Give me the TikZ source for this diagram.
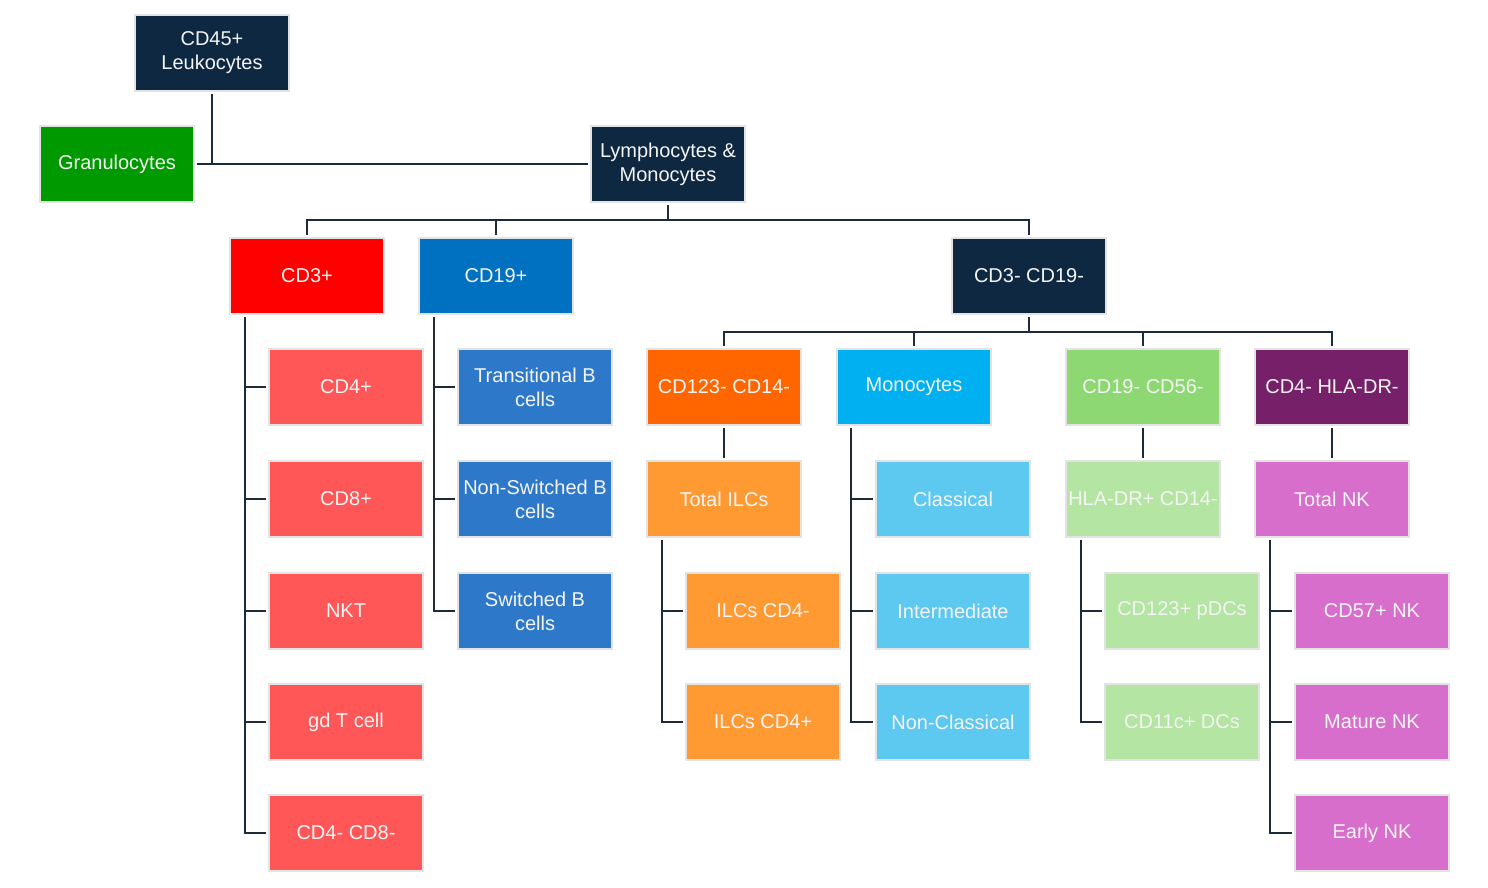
\documentclass[tikz,border=0pt]{standalone}
\usepackage{fontspec}
\setmainfont{Liberation Sans}
\definecolor{navy}{HTML}{0E2841}
\definecolor{linec}{HTML}{1C2B3C}
\definecolor{grn}{HTML}{009A00}
\definecolor{rd}{HTML}{FF0000}
\definecolor{bl}{HTML}{0070C0}
\definecolor{tcell}{HTML}{FF5757}
\definecolor{bcell}{HTML}{2E78C9}
\definecolor{org}{HTML}{FF6600}
\definecolor{ilc}{HTML}{FF9A33}
\definecolor{cyn}{HTML}{00B0F0}
\definecolor{mono}{HTML}{5DC8F0}
\definecolor{lgr}{HTML}{8ED873}
\definecolor{llgr}{HTML}{B4E5A2}
\definecolor{purp}{HTML}{76206A}
\definecolor{nk}{HTML}{D86ECC}
\definecolor{txt}{HTML}{F4F4F4}
\begin{document}
\begin{tikzpicture}[x=1pt,y=-1pt,
  bx/.style={rectangle, draw=gray!22, line width=1.5pt, minimum width=154pt, minimum height=76pt,
    inner sep=0pt, outer sep=3pt, text=txt, align=center, font=\fontsize{20}{24}\selectfont},
  conn/.style={draw=linec, line width=2.5pt}]
\useasboundingbox (0,0) rectangle (1488,888);
% nodes
\node[bx, fill=navy] (cd45) at (212,53) {CD45+\\Leukocytes};
\node[bx, fill=grn] (gran) at (117,164) {Granulocytes};
\node[bx, fill=navy] (lymph) at (668,164) {Lymphocytes \&\\Monocytes};
\node[bx, fill=rd] (cd3) at (307,276) {CD3+};
\node[bx, fill=bl] (cd19) at (496,276) {CD19+};
\node[bx, fill=navy] (cd3n) at (1029,276) {CD3- CD19-};
\node[bx, fill=tcell] (cd4) at (346,387) {CD4+};
\node[bx, fill=tcell] (cd8) at (346,499) {CD8+};
\node[bx, fill=tcell] (nkt) at (346,611) {NKT};
\node[bx, fill=tcell] (gdt) at (346,722) {gd T cell};
\node[bx, fill=tcell] (cd4n8n) at (346,833) {CD4- CD8-};
\node[bx, fill=bcell] (trans) at (535,387) {Transitional B\\cells};
\node[bx, fill=bcell] (nonsw) at (535,499) {Non-Switched B\\cells};
\node[bx, fill=bcell] (sw) at (535,611) {Switched B\\cells};
\node[bx, fill=org] (cd123) at (724,387) {CD123- CD14-};
\node[bx, fill=ilc] (tilc) at (724,499) {Total ILCs};
\node[bx, fill=ilc] (ilcn) at (763,611) {ILCs CD4-};
\node[bx, fill=ilc] (ilcp) at (763,722) {ILCs CD4+};
\node[bx, fill=cyn] (mono) at (914,387) {Monocytes};
\node[bx, fill=mono] (class) at (953,499) {Classical};
\node[bx, fill=mono] (inter) at (953,611) {Intermediate};
\node[bx, fill=mono] (noncl) at (953,722) {Non-Classical};
\node[bx, fill=lgr] (cd1956) at (1143,387) {CD19- CD56-};
\node[bx, fill=llgr] (hla) at (1143,499) {HLA-DR+ CD14-};
\node[bx, fill=llgr] (pdc) at (1182,611) {CD123+ pDCs};
\node[bx, fill=llgr] (dc) at (1182,722) {CD11c+ DCs};
\node[bx, fill=purp] (cd4hla) at (1332,387) {CD4- HLA-DR-};
\node[bx, fill=nk] (tnk) at (1332,499) {Total NK};
\node[bx, fill=nk] (nk57) at (1372,611) {CD57+ NK};
\node[bx, fill=nk] (mnk) at (1372,722) {Mature NK};
\node[bx, fill=nk] (enk) at (1372,833) {Early NK};
% top connectors
\coordinate (j0) at (212,164);
\draw[conn] (gran.east) -- (lymph.west);
\draw[conn] (cd45.south) -- (j0);
\coordinate (bus1) at (668,220);
\draw[conn] (lymph.south) -- (bus1);
\draw[conn] (cd3.north) |- (bus1) -| (cd3n.north);
\draw[conn] (cd19.north) -- (cd19.north |- bus1);
\coordinate (bus2) at (1029,332);
\draw[conn] (cd3n.south) -- (bus2);
\draw[conn] (cd123.north) |- (bus2) -| (cd4hla.north);
\draw[conn] (mono.north) -- (mono.north |- bus2);
\draw[conn] (cd1956.north) -- (cd1956.north |- bus2);
% vertical links
\draw[conn] (cd123.south) -- (tilc.north);
\draw[conn] (cd1956.south) -- (hla.north);
\draw[conn] (cd4hla.south) -- (tnk.north);
% spines
\draw[conn] ([xshift=18pt]cd3.south west) |- (cd4n8n.west);
\foreach \n in {cd4,cd8,nkt,gdt} \draw[conn] (\n.west) -- (\n.west -| 245,0);
\draw[conn] ([xshift=18pt]cd19.south west) |- (sw.west);
\foreach \n in {trans,nonsw} \draw[conn] (\n.west) -- (\n.west -| 434,0);
\draw[conn] ([xshift=18pt]tilc.south west) |- (ilcp.west);
\draw[conn] (ilcn.west) -- (ilcn.west -| 662,0);
\draw[conn] ([xshift=17pt]mono.south west) |- (noncl.west);
\foreach \n in {class,inter} \draw[conn] (\n.west) -- (\n.west -| 851,0);
\draw[conn] ([xshift=18pt]hla.south west) |- (dc.west);
\draw[conn] (pdc.west) -- (pdc.west -| 1081,0);
\draw[conn] ([xshift=18pt]tnk.south west) |- (enk.west);
\foreach \n in {nk57,mnk} \draw[conn] (\n.west) -- (\n.west -| 1270,0);
\end{tikzpicture}
\end{document}
